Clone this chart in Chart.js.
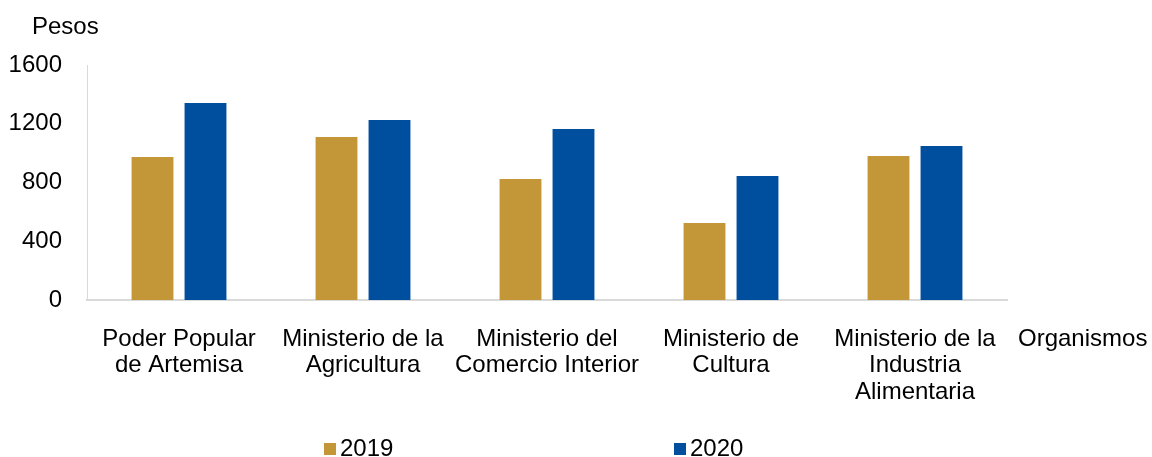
<!DOCTYPE html>
<html>
<head>
<meta charset="utf-8">
<style>
  html, body { margin: 0; padding: 0; background: #fff; }
  #wrap { width: 1152px; height: 457px; }
</style>
<script src="https://cdn.jsdelivr.net/npm/chart.js@4.4.0/dist/chart.umd.min.js"></script>
</head>
<body>
<div id="wrap"><canvas id="myChart" width="1152" height="457"></canvas></div>
<script>
const labels = [
    ['Poder Popular', 'de Artemisa'],
    ['Ministerio de la', 'Agricultura'],
    ['Ministerio del', 'Comercio Interior'],
    ['Ministerio de', 'Cultura'],
    ['Ministerio de la', 'Industria', 'Alimentaria']
]
const values2019 = [974, 1110, 824, 524, 980]
const values2020 = [1341, 1225, 1164, 844, 1049]
const yTicks = [0, 400, 800, 1200, 1600]

const FONT = '"Liberation Sans", Arial, sans-serif'
Chart.defaults.font.family = FONT
Chart.defaults.font.size = 24
Chart.defaults.color = '#000'

// axis titles + legend drawn by hand (legend items sit far apart in the original)
const extras = {
    id: 'extras',
    afterDraw(chart) {
        const {ctx, chartArea} = chart
        ctx.save()
        ctx.font = '24px ' + FONT
        ctx.fillStyle = '#000'
        ctx.textBaseline = 'alphabetic'
        ctx.textAlign = 'left'
        ctx.fillText('Pesos', chartArea.left - 55, 34)
        ctx.fillText('Organismos', chartArea.right + 11, 346)

        const legendX = [324, 674]
        chart.data.datasets.forEach((ds, i) => {
            ctx.fillStyle = ds.backgroundColor
            ctx.fillRect(legendX[i], 443, 12, 12)
            ctx.fillStyle = '#000'
            ctx.fillText(ds.label, legendX[i] + 16, 456)
        })
        ctx.restore()
    }
}

const data = {
    labels: labels,
    datasets: [{
        label: '2019',
        data: values2019,
        backgroundColor: '#C39737'
    }, {
        label: '2020',
        data: values2020,
        backgroundColor: '#004F9F'
    }]
}

const config = {
    type: 'bar',
    data,
    plugins: [extras],
    options: {
        responsive: false,
        animation: false,
        categoryPercentage: 0.576,
        barPercentage: 0.79,
        layout: {
            padding: { top: 65, right: 145, bottom: 0, left: 0 }
        },
        scales: {
            x: {
                grid: { display: false, drawTicks: false },
                border: { display: true, color: '#d9d9d9', width: 2 },
                ticks: {
                    padding: 26,
                    maxRotation: 0,
                    autoSkip: false,
                    font: { size: 24, lineHeight: 1.1 }
                },
                afterFit(scale) { scale.height = 157 }
            },
            y: {
                min: 0,
                max: 1600,
                grid: { display: false, drawTicks: false },
                border: { display: true, color: '#d9d9d9', width: 1 },
                ticks: {
                    padding: 25,
                    callback: v => String(v)
                },
                afterBuildTicks(scale) {
                    scale.ticks = yTicks.map(v => ({ value: v }))
                },
                afterFit(scale) { scale.width = 87 }
            }
        },
        plugins: {
            legend: { display: false },
            tooltip: { enabled: false }
        }
    }
}

const myChart = new Chart(document.getElementById('myChart'), config)
</script>
</body>
</html>
